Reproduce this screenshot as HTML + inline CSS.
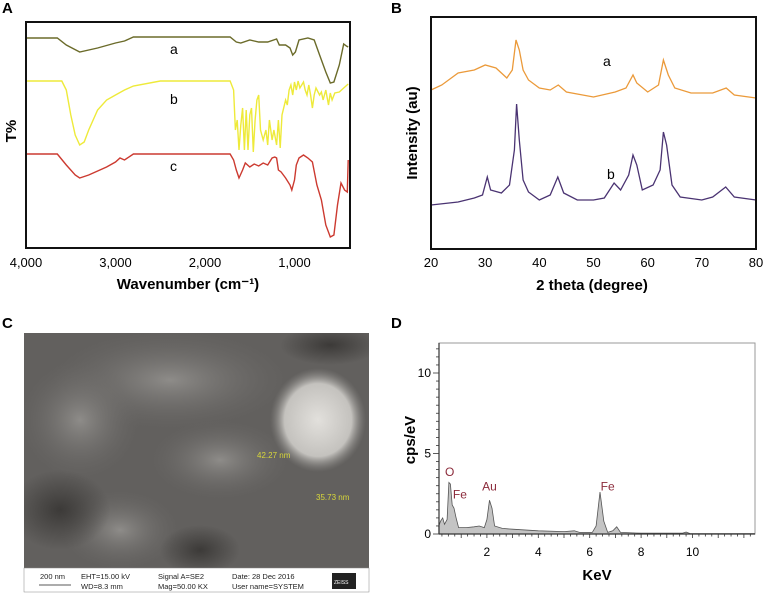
<!DOCTYPE html>
<html><head><meta charset="utf-8"><style>
body{margin:0;background:#fff}
svg{display:block;font-family:"Liberation Sans",sans-serif}
</style></head><body>
<svg id="fig" width="763" height="593" viewBox="0 0 763 593" xmlns="http://www.w3.org/2000/svg">
<defs>
<radialGradient id="blob" cx="0.5" cy="0.5" r="0.5"><stop offset="0" stop-color="#e2e0dc"/><stop offset="0.7" stop-color="#c4c2be"/><stop offset="1" stop-color="#8a8885" stop-opacity="0"/></radialGradient>
<radialGradient id="light1" cx="0.5" cy="0.5" r="0.5"><stop offset="0" stop-color="#8e8c89"/><stop offset="1" stop-color="#6a6866" stop-opacity="0"/></radialGradient>
<radialGradient id="dark1" cx="0.5" cy="0.5" r="0.5"><stop offset="0" stop-color="#3c3a38"/><stop offset="1" stop-color="#3c3a38" stop-opacity="0"/></radialGradient>
<clipPath id="semclip"><rect x="24" y="333" width="345" height="235"/></clipPath>
</defs>
<text x="2" y="13" font-size="15" font-weight="bold">A</text>
<text x="391" y="13" font-size="15" font-weight="bold">B</text>
<text x="2" y="328" font-size="15" font-weight="bold">C</text>
<text x="391" y="328" font-size="15" font-weight="bold">D</text>

<g id="panelA"></g>
<g id="panelB"></g>

<g>
<g clip-path="url(#semclip)">
<rect x="24" y="333" width="345" height="235" fill="#62605e"/>
<ellipse cx="170" cy="380" rx="120" ry="50" fill="url(#light1)"/>
<ellipse cx="80" cy="420" rx="60" ry="60" fill="url(#light1)"/>
<ellipse cx="220" cy="460" rx="70" ry="40" fill="url(#light1)"/>
<ellipse cx="120" cy="530" rx="60" ry="40" fill="url(#light1)"/>
<ellipse cx="60" cy="510" rx="50" ry="40" fill="url(#dark1)"/>
<ellipse cx="200" cy="550" rx="40" ry="25" fill="url(#dark1)"/>
<ellipse cx="330" cy="345" rx="50" ry="20" fill="url(#dark1)"/>
<ellipse cx="318" cy="420" rx="48" ry="52" fill="url(#blob)"/>
</g>
<text x="257" y="458" font-size="8" fill="#d8d83a">42.27 nm</text>
<text x="316" y="500" font-size="8" fill="#d8d83a">35.73 nm</text>
<rect x="24" y="568" width="345" height="24" fill="#fff" stroke="#888" stroke-width="0.5"/>
<g font-size="7.5" fill="#222">
<text x="40" y="579">200 nm</text>
<line x1="39" y1="585" x2="71" y2="585" stroke="#222" stroke-width="0.8"/>
<text x="81" y="579">EHT=15.00 kV</text><text x="81" y="589">WD=8.3 mm</text>
<text x="158" y="579">Signal A=SE2</text><text x="158" y="589">Mag=50.00 KX</text>
<text x="232" y="579">Date: 28 Dec 2016</text><text x="232" y="589">User name=SYSTEM</text>
</g>
<rect x="332" y="573" width="24" height="16" fill="#222"/>
<text x="334" y="584" font-size="5" fill="#fff">ZEISS</text>
</g>

<g id="panelD"></g>
</svg>
<script>
const ftirA = [[4000,16],[3650,16],[3550,23],[3400,30],[3200,26],[3000,21],[2900,19],[2800,15],[1720,15],[1650,20],[1600,21],[1500,18],[1400,20],[1300,20],[1200,17],[1170,23],[1100,23],[1050,26],[1020,33],[990,30],[950,18],[850,16],[780,18],[720,33],[650,50],[600,61],[560,60],[500,43],[450,22],[420,24],[400,25]];
const ftirB = [[4000,59],[3600,59],[3550,68],[3500,93],[3450,113],[3400,123],[3350,120],[3300,108],[3200,88],[3100,78],[3000,73],[2900,68],[2800,64],[2500,59],[1720,59],[1680,68],[1660,108],[1640,98],[1620,128],[1600,103],[1580,86],[1560,128],[1540,88],[1520,128],[1500,93],[1480,86],[1460,130],[1440,98],[1420,78],[1400,73],[1380,108],[1350,118],[1320,108],[1300,123],[1280,98],[1250,118],[1230,108],[1200,123],[1180,98],[1160,126],[1140,93],[1100,78],[1080,83],[1060,68],[1040,63],[1020,73],[1000,60],[980,68],[960,59],[940,66],[920,63],[900,60],[880,68],[860,73],[840,63],[820,73],[800,86],[780,73],[760,66],[720,73],[700,70],[680,78],[650,68],[620,83],[600,71],[580,78],[550,71],[500,70],[450,66],[400,62]];
const ftirC = [[4000,132],[3650,132],[3550,143],[3450,153],[3400,156],[3300,153],[3100,145],[3000,140],[2950,136],[2900,138],[2800,132],[1720,132],[1680,138],[1650,148],[1620,156],[1580,148],[1550,141],[1500,145],[1450,142],[1400,144],[1350,141],[1300,143],[1250,136],[1220,135],[1200,136],[1180,148],[1150,150],[1100,156],[1050,163],[1030,168],[1000,158],[980,143],[950,136],[900,133],[850,136],[800,140],[750,163],[700,178],[650,203],[600,215],[560,213],[520,183],[480,161],[440,168],[410,170],[400,138]];
const ftirTicks = [4000,3000,2000,1000];
const ftirTickLabels = ["4,000","3,000","2,000","1,000"];
const xrdA = [[20,159],[22,164],[25,176],[28,179],[30,184],[32,181],[34,171],[35,179],[35.7,209],[36.3,199],[37,179],[38,169],[40,161],[42,159],[43.5,164],[45,157],[50,152],[54,157],[56,161],[57.3,174],[58,166],[60,157],[62,164],[62.9,189],[63.8,174],[65,161],[68,156],[72,156],[74.5,161],[76,154],[80,151]];
const xrdB = [[20,44],[25,47],[28,51],[29.5,54],[30.4,72],[31,59],[33,56],[34.5,64],[35.4,99],[35.8,145],[36.3,109],[37,69],[38,57],[40,49],[42,54],[43.4,72],[44.5,56],[47,49],[50,49],[52,51],[53.8,66],[55,59],[56.5,74],[57.3,94],[58,84],[59,59],[61,64],[62.3,79],[62.9,117],[63.5,104],[64.5,64],[66,52],[70,49],[72,52],[74.4,62],[76,52],[80,49]];
const xrdTicks = [20,30,40,50,60,70,80];
const edsSpec = [[0.13,0.5],[0.2,0.8],[0.28,1.0],[0.35,0.6],[0.45,0.9],[0.52,3.2],[0.58,3.1],[0.65,1.8],[0.72,1.6],[0.8,1.0],[0.9,0.4],[1.2,0.4],[1.5,0.45],[1.7,0.5],[1.9,0.4],[2.0,0.9],[2.1,2.1],[2.2,1.6],[2.3,0.5],[2.6,0.35],[3,0.3],[4,0.2],[5,0.15],[5.4,0.2],[5.6,0.1],[6.1,0.1],[6.25,0.5],[6.4,2.6],[6.55,0.8],[6.7,0.1],[6.9,0.2],[7.05,0.45],[7.2,0.1],[8,0.05],[9.6,0.05],[9.75,0.12],[9.9,0.03],[12.4,0.02]];
const edsXTicks = [2,4,6,8,10];
const edsYTicks = [0,5,10];
const edsPeaks = [["O",0.55,3.6],["Fe",0.95,2.2],["Au",2.1,2.7],["Fe",6.7,2.7]];

const NS="http://www.w3.org/2000/svg";
function mk(parent,tag,attrs,text){const e=document.createElementNS(NS,tag);for(const k in attrs)e.setAttribute(k,attrs[k]);if(text!==undefined)e.textContent=text;parent.appendChild(e);return e;}

(function(){
const g=document.getElementById('panelA');
const L=26,R=350,T=22,B=248;
const x=w=>L+(4000-w)/(4000-380)*(R-L);
const y=v=>T+v/226*(B-T);
const series=[[ftirA,'#6b6b2a','a',170,54],[ftirB,'#eeea3a','b',170,104],[ftirC,'#cc3a30','c',170,171]];
series.forEach(s=>{
 const p=mk(g,'polyline',{points:s[0].map(d=>x(d[0]).toFixed(1)+','+y(d[1]).toFixed(1)).join(' '),fill:'none',stroke:s[1],'stroke-width':1.4});
 
 
 const t=mk(g,'text',{x:s[3],y:s[4],'font-size':14},s[2]);
 
 
});
const f=mk(g,'rect',{x:L,y:T,width:R-L,height:B-T,fill:'none',stroke:'#111','stroke-width':2});


ftirTicks.forEach((w,i)=>{
 const t=mk(g,'text',{x:x(w),y:267,'font-size':13,'text-anchor':'middle'},ftirTickLabels[i]);
 
 
});
const xt=mk(g,'text',{x:188,y:289,'font-size':15,'font-weight':'bold','text-anchor':'middle'},'Wavenumber (cm\u207B\u00B9)');


const yt=mk(g,'text',{x:0,y:0,'font-size':15,'font-weight':'bold','text-anchor':'middle',transform:'translate(16,131) rotate(-90)'},'T%');


})();

(function(){
const g=document.getElementById('panelB');
const L=431,R=756,T=17,B=249;
const x=v=>L+(v-20)/60*(R-L);
const y=v=>B-v;
[[xrdA,'#eb9a3a','a',603,66],[xrdB,'#4a3372','b',607,179]].forEach(s=>{
 const p=mk(g,'polyline',{points:s[0].map(d=>x(d[0]).toFixed(1)+','+y(d[1]).toFixed(1)).join(' '),fill:'none',stroke:s[1],'stroke-width':1.3});
 
 
 const t=mk(g,'text',{x:s[3],y:s[4],'font-size':14},s[2]);
 
 
});
const f=mk(g,'rect',{x:L,y:T,width:R-L,height:B-T,fill:'none',stroke:'#111','stroke-width':2});


xrdTicks.forEach(v=>{
 const t=mk(g,'text',{x:x(v),y:267,'font-size':13,'text-anchor':'middle'},String(v));
 
 
});
const xt=mk(g,'text',{x:592,y:290,'font-size':15,'font-weight':'bold','text-anchor':'middle'},'2 theta (degree)');


const yt=mk(g,'text',{x:0,y:0,'font-size':15,'font-weight':'bold','text-anchor':'middle',transform:'translate(417,133) rotate(-90)'},'Intensity (au)');


})();

(function(){
const g=document.getElementById('panelD');
const L=439,R=755,T=343,B=534;
const x=k=>435.5+k*25.7;
const y=v=>B-v*16.1;
const f=mk(g,'rect',{x:L,y:T,width:R-L,height:B-T,fill:'#fff',stroke:'#999','stroke-width':1});


const pts=edsSpec.map(d=>x(d[0]).toFixed(1)+','+y(d[1]).toFixed(1));
const area=mk(g,'polygon',{points:x(edsSpec[0][0])+','+B+' '+pts.join(' ')+' '+x(edsSpec[edsSpec.length-1][0])+','+B,fill:'#c4c4c4',stroke:'#555','stroke-width':0.8});


mk(g,'line',{x1:L,y1:T,x2:L,y2:B,stroke:'#333','stroke-width':1.2});
mk(g,'line',{x1:L,y1:B,x2:R,y2:B,stroke:'#333','stroke-width':1.2});
for(let v=0;v<=11.5;v+=0.5){mk(g,'line',{x1:L-(v%5===0?6:3),y1:y(v),x2:L,y2:y(v),stroke:'#333','stroke-width':0.8});}
for(let k=0.25;k<=12.3;k+=0.25){const maj=Math.abs(k%1)<0.01;mk(g,'line',{x1:x(k),y1:B,x2:x(k),y2:B+(maj?4:2.5),stroke:'#333','stroke-width':0.8});}
edsYTicks.forEach(v=>{
 const t=mk(g,'text',{x:L-8,y:y(v)+4,'font-size':12,'text-anchor':'end'},String(v));
 
 
});
edsXTicks.forEach(v=>{
 const t=mk(g,'text',{x:x(v),y:556,'font-size':12,'text-anchor':'middle'},String(v));
 
 
});
edsPeaks.forEach(p=>{
 const t=mk(g,'text',{x:x(p[1]),y:y(p[2]),'font-size':12,fill:'#8b2a3a','text-anchor':'middle'},p[0]);
 
 
});
const xt=mk(g,'text',{x:597,y:580,'font-size':15,'font-weight':'bold','text-anchor':'middle'},'KeV');


const yt=mk(g,'text',{x:0,y:0,'font-size':15,'font-weight':'bold','text-anchor':'middle',transform:'translate(415,440) rotate(-90)'},'cps/eV');


})();
</script>
</body></html>
